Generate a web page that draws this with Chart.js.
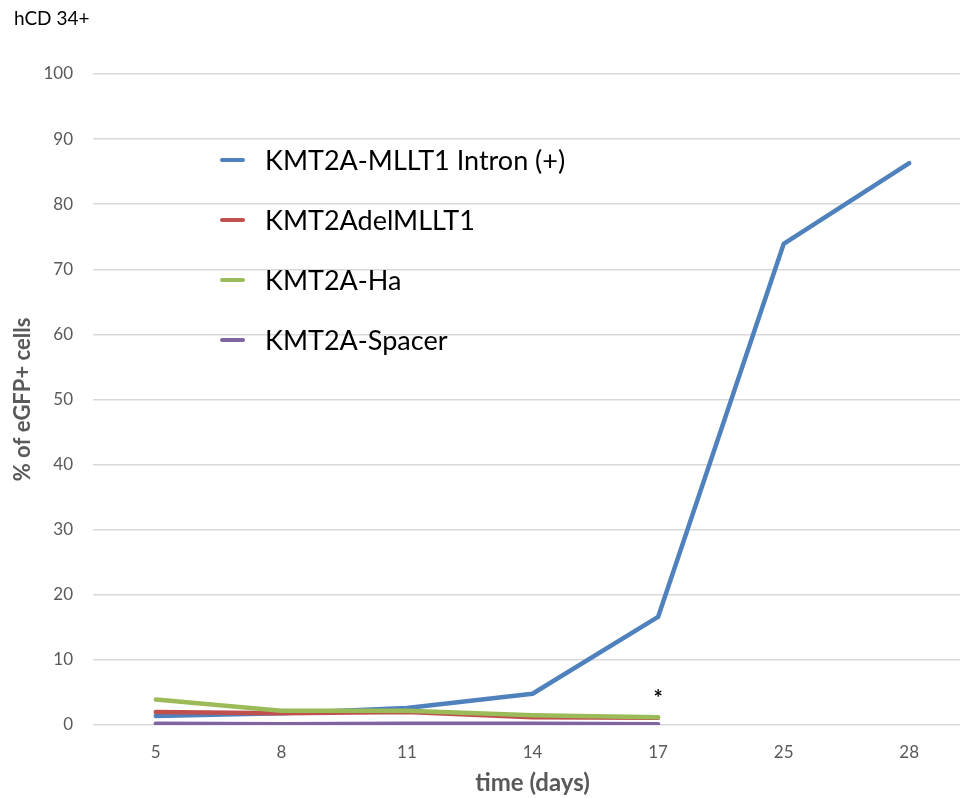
<!DOCTYPE html>
<html>
<head>
<meta charset="utf-8">
<script src="https://cdn.jsdelivr.net/npm/chart.js@4"></script>
<style>
  html, body { margin: 0; padding: 0; background: #fff; overflow: hidden; }
  #wrap { width: 972px; height: 798px; }
</style>
</head>
<body>
<div id="wrap"><canvas id="c" width="972" height="798"></canvas></div>
<script>
const days = ['5', '8', '11', '14', '17', '25', '28'];
const seriesNames = ['KMT2A-MLLT1 Intron (+)', 'KMT2AdelMLLT1', 'KMT2A-Ha', 'KMT2A-Spacer'];
const intronPlus = [1.4, 1.8, 2.6, 4.8, 16.6, 73.9, 86.3];
const delMLLT1 = [2.0, 1.8, 2.0, 1.2, 1.1, null, null];
const ha = [3.9, 2.2, 2.2, 1.5, 1.2, null, null];
const spacer = [0.2, 0.1, 0.2, 0.2, 0.1, null, null];
const yTicks = [0, 10, 20, 30, 40, 50, 60, 70, 80, 90, 100];
const chartTitle = 'hCD 34+';
const asteriskAt = { day: '17', value: 4.6, text: '*' };

const colors = ['#4F81BD', '#C0504D', '#9BBB59', '#8064A2'];
const values = [intronPlus, delMLLT1, ha, spacer];
const FONT = 'Lato, "Open Sans", sans-serif';

const cornerTitle = {
  id: 'cornerTitle',
  afterDraw(chart) {
    const ctx = chart.ctx;
    ctx.save();
    ctx.fillStyle = '#000';
    ctx.font = '19px ' + FONT;
    ctx.textAlign = 'left';
    ctx.textBaseline = 'middle';
    ctx.fillText(chartTitle, 14, 19);
    ctx.restore();
  }
};

const insideLegend = {
  id: 'insideLegend',
  afterDraw(chart) {
    const ctx = chart.ctx;
    const ca = chart.chartArea;
    const x0 = ca.left + 129;
    const y0 = 160;
    const gap = 60;
    ctx.save();
    chart.data.datasets.forEach((ds, i) => {
      const y = y0 + i * gap;
      ctx.strokeStyle = ds.borderColor;
      ctx.lineWidth = 4;
      ctx.lineCap = 'round';
      ctx.beginPath();
      ctx.moveTo(x0, y);
      ctx.lineTo(x0 + 21, y);
      ctx.stroke();
      ctx.fillStyle = '#000';
      ctx.font = '27px ' + FONT;
      ctx.textBaseline = 'middle';
      ctx.textAlign = 'left';
      ctx.fillText(ds.label, x0 + 43, y + 1);
    });
    ctx.restore();
  }
};

const asteriskPlugin = {
  id: 'asterisk',
  afterDatasetsDraw(chart) {
    const ctx = chart.ctx;
    const x = chart.scales.x.getPixelForValue(days.indexOf(asteriskAt.day));
    const y = chart.scales.y.getPixelForValue(asteriskAt.value);
    ctx.save();
    ctx.fillStyle = '#000';
    ctx.font = 'bold 22px ' + FONT;
    ctx.textAlign = 'center';
    ctx.textBaseline = 'middle';
    ctx.fillText(asteriskAt.text, x, y + 4);
    ctx.restore();
  }
};

new Chart(document.getElementById('c'), {
  type: 'line',
  data: {
    labels: days,
    datasets: seriesNames.map((name, i) => ({
      label: name,
      data: values[i],
      order: seriesNames.length - i,
      borderColor: colors[i],
      backgroundColor: colors[i],
      borderWidth: 4.5,
      pointRadius: 0,
      pointHoverRadius: 0,
      tension: 0,
      fill: false,
      borderCapStyle: 'round',
      borderJoinStyle: 'round',
      spanGaps: false
    }))
  },
  options: {
    responsive: false,
    animation: false,
    layout: { padding: { left: 0, right: 0, top: 74, bottom: 0 } },
    plugins: {
      legend: { display: false },
      tooltip: { enabled: false },
      title: { display: false }
    },
    scales: {
      x: {
        type: 'category',
        offset: true,
        grid: { display: false, drawTicks: false },
        border: { display: false },
        ticks: { color: '#595959', font: { family: FONT, size: 17 }, padding: 17, maxRotation: 0 },
        title: {
          display: true,
          text: 'time (days)',
          color: '#595959',
          font: { family: FONT, size: 24, weight: 'bold' },
          padding: { top: 0, bottom: 0 }
        },
        afterFit(scale) { scale.height = 73; }
      },
      y: {
        min: 0,
        max: 100,
        afterBuildTicks(scale) { scale.ticks = yTicks.map(v => ({ value: v })); },
        grid: { color: '#D9D9D9', lineWidth: 1.5, drawTicks: false },
        border: { display: false },
        ticks: { color: '#595959', font: { family: FONT, size: 17 }, padding: 20 },
        title: {
          display: true,
          text: '% of eGFP+ cells',
          color: '#595959',
          font: { family: FONT, size: 22, weight: 'bold' },
          padding: { top: 10, bottom: 0 }
        },
        afterFit(scale) { scale.width = 93; }
      }
    }
  },
  plugins: [cornerTitle, insideLegend, asteriskPlugin]
});
</script>
</body>
</html>
